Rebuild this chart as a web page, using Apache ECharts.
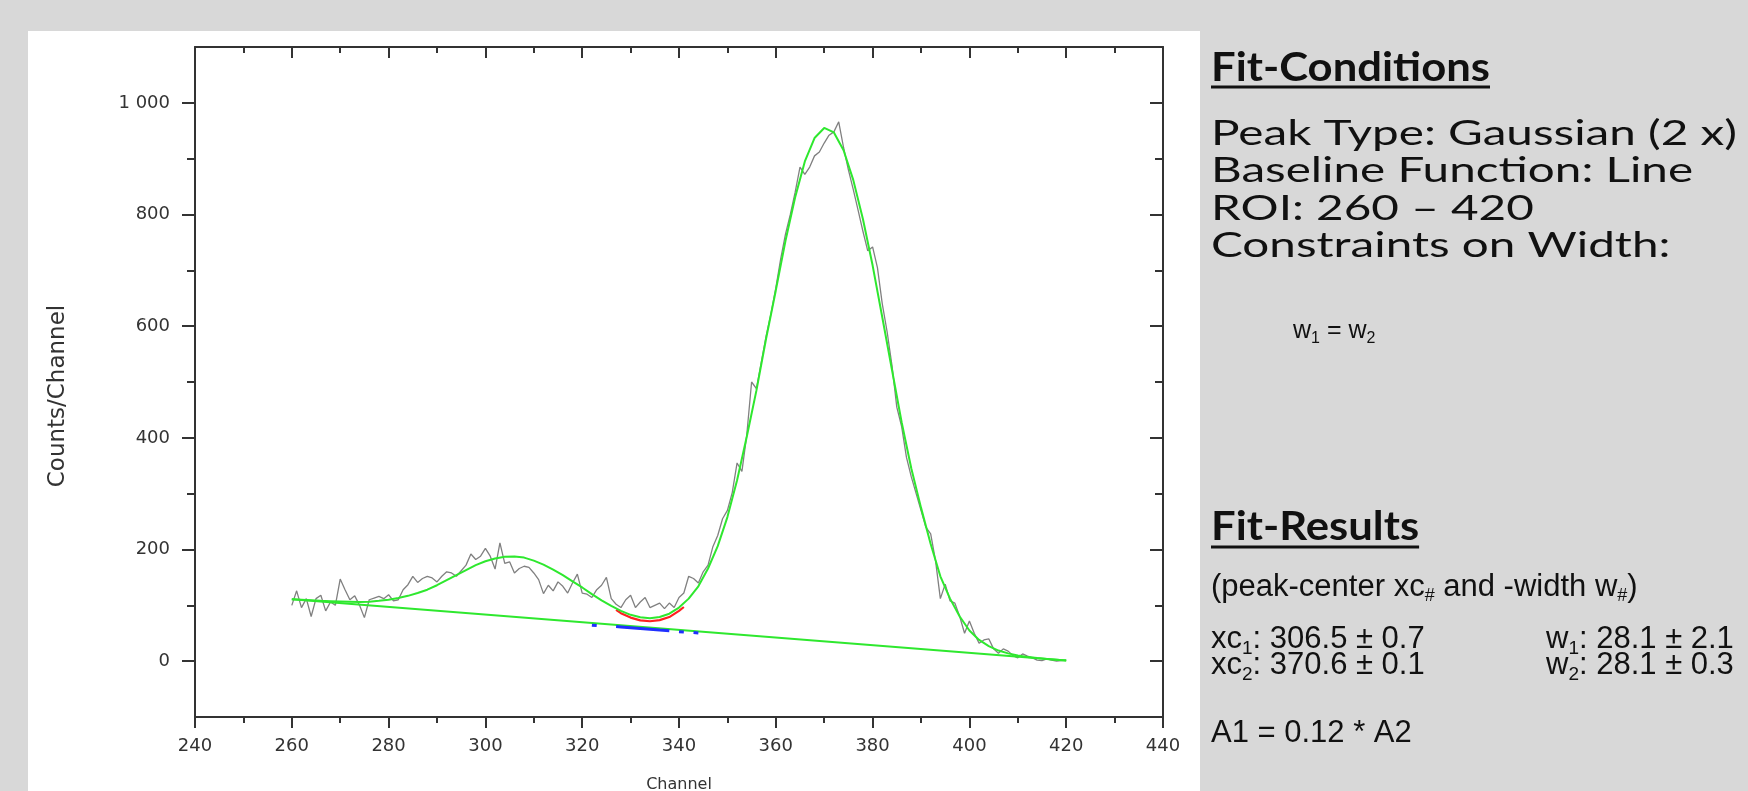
<!DOCTYPE html>
<html>
<head>
<meta charset="utf-8">
<script src="https://cdn.jsdelivr.net/npm/echarts@6/dist/echarts.min.js"></script>
<style>
html,body{margin:0;padding:0;background:#d8d8d8;}
#chart{width:1748px;height:791px;}
</style>
</head>
<body>
<div id="chart"></div>
<script>
// ---------------- data ----------------
const firstChannel = 260;
// measured counts, one per channel 260..420
const counts = [
100,126,96,112,80,112,118,90,106,100,
147,128,110,117,100,78,110,113,116,112,
119,108,110,128,137,152,141,148,152,149,
142,152,160,158,152,162,172,192,182,188,
202,188,165,212,175,178,158,166,170,168,
158,146,121,136,126,142,134,122,140,156,
122,120,114,128,136,150,112,102,96,110,
118,96,106,114,96,100,104,94,104,96,
114,122,152,148,140,160,172,205,225,255,
270,302,355,340,405,500,488,535,582,622,
668,720,765,800,840,885,872,885,905,912,
928,942,948,966,920,880,845,808,770,735,
742,705,640,590,530,455,420,365,330,300,
270,240,228,180,112,138,108,104,80,50,
72,50,32,38,40,22,14,22,18,10,
6,13,9,6,2,1,4,2,0,1,
2
];
// cumulative fit curve (channel, value)
const fitChannels = [260,262,264,266,268,270,272,274,276,278,280,282,284,286,288,290,292,294,296,298,300,302,304,306,308,310,312,314,316,318,320,322,324,326,328,330,332,334,336,338,340,342,344,346,348,350,352,354,356,358,360,362,364,366,368,370,372,374,376,378,380,382,384,386,388,390,392,394,396,398,400,402,404,406,408,410,412,414,416,418,420];
const fitValues = [111,110,109,108,107.5,107,106.5,106,106.5,108,110,113,117,122,128,136,145,154,163,172,179,184,187,187.5,185.5,180,173,164,154,143,132,120,109,99,90,83,78.5,77,79,85,96,112,134,166,206,258,324,402,485,578,664,753,831,895,937,955,947,915,862,792,709,616,522,428,345,275,210,152,112,80,55,38,27,19,14,10,7.5,5.5,4,2.5,1];
// linear baseline end points
const baselineChannels = [260, 420];
const baselineValues = [111, 1];
// red arc in the valley
const redChannels = [327,328,330,332,334,336,338,340,341];
const redValues = [92,86,78,73,71.5,73.5,79,90,97];
// blue pieces along baseline (null = gap)
const blueChannels = [322,323,324,327,328,330,332,334,336,338,339,340,341,342,343,344,346,347];
const blueValues = [64.5,63.8,null,62,61.3,59.9,58.5,57.1,55.7,54.4,null,52.8,52.1,null,51.2,50.5,null,48.6];

// axes
const xMin = 240, xMax = 440, xStep = 20;
const yMin = -100, yMax = 1100;
const yLabelValues = [0,200,400,600,800,1000];
const yMinorValues = [100,300,500,700,900];

// side panel text
const headingConditions = 'Fit-Conditions';
const conditionLines = ['Peak Type: Gaussian (2 x)','Baseline Function: Line','ROI: 260 \u2013 420','Constraints on Width:'];
const headingResults = 'Fit-Results';

// ---------------- build ----------------
const countsData = counts.map((v,i)=>[firstChannel+i, v]);
const fitData = fitChannels.map((c,i)=>[c, fitValues[i]]);
const baseData = baselineChannels.map((c,i)=>[c, baselineValues[i]]);
const redData = redChannels.map((c,i)=>[c, redValues[i]]);
const blueData = blueChannels.map((c,i)=> blueValues[i]===null ? [c,'-'] : [c, blueValues[i]]);

const axisColor = '#333';
const axFont = 'DejaVu Sans, Verdana, sans-serif';
const labelFont = {color:'#333', fontFamily:axFont, fontSize:18};
const chart = echarts.init(document.getElementById('chart'), null, {renderer:'canvas'});

const ctx = document.createElement('canvas').getContext('2d');
const headFont = 'bold 41px Lato';
ctx.font = headFont;
const wCondRaw = ctx.measureText(headingConditions).width;
const headScale = 279 / wCondRaw;
const wCond = wCondRaw * headScale;
const wRes = ctx.measureText(headingResults).width * headScale;
const bodyFontStr = '34px Lato';
ctx.font = bodyFontStr;
const bodyScale = 526 / ctx.measureText(conditionLines[0]).width;

const txtX = 1211;
const arial = 'Liberation Sans, Arial, sans-serif';
const subRich = (main, sub, pad) => ({
  n:{fontFamily:arial, fontSize:main, fill:'#111'},
  s:{fontFamily:arial, fontSize:sub, fill:'#111', padding:[pad,0,0,0]}
});

const graphics = [
  {type:'rect', z:-100, silent:true, shape:{x:28,y:31,width:1172,height:760}, style:{fill:'#ffffff'}},
  {type:'text', x:txtX, y:68, scaleX:headScale, style:{text:headingConditions, font:headFont, fill:'#111', verticalAlign:'middle'}},
  {type:'line', shape:{x1:txtX,y1:87,x2:txtX+wCond,y2:87}, style:{stroke:'#111', lineWidth:3}},
  {type:'text', x:txtX, y:527, scaleX:headScale, style:{text:headingResults, font:headFont, fill:'#111', verticalAlign:'middle'}},
  {type:'line', shape:{x1:txtX,y1:547,x2:txtX+wRes,y2:547}, style:{stroke:'#111', lineWidth:3}},
  {type:'text', x:1293, y:331, style:{text:'{n|w}{s|1}{n| = w}{s|2}', rich:subRich(25,16,16), verticalAlign:'middle'}},
  {type:'text', x:txtX, y:587, style:{text:'{n|(peak-center xc}{s|#}{n| and -width w}{s|#}{n|)}', rich:subRich(31,18,18), verticalAlign:'middle'}},
  {type:'text', x:txtX, y:639, style:{text:'{n|xc}{s|1}{n|: 306.5 \u00b1 0.7}', rich:subRich(31,19,19), verticalAlign:'middle'}},
  {type:'text', x:txtX, y:665, style:{text:'{n|xc}{s|2}{n|: 370.6 \u00b1 0.1}', rich:subRich(31,19,19), verticalAlign:'middle'}},
  {type:'text', x:1546, y:639, style:{text:'{n|w}{s|1}{n|: 28.1 \u00b1 2.1}', rich:subRich(31,19,19), verticalAlign:'middle'}},
  {type:'text', x:1546, y:665, style:{text:'{n|w}{s|2}{n|: 28.1 \u00b1 0.3}', rich:subRich(31,19,19), verticalAlign:'middle'}},
  {type:'text', x:txtX, y:733, style:{text:'A1 = 0.12 * A2', fontFamily:arial, fontSize:31, fill:'#111', verticalAlign:'middle'}}
];
conditionLines.forEach((t,i)=>{
  graphics.push({type:'text', x:txtX, y:134+i*37.5, scaleX:bodyScale,
    style:{text:t, font:bodyFontStr, fill:'#111', verticalAlign:'middle'}});
});

function xAx(pos, labels){
  return {
    type:'value', position:pos, min:xMin, max:xMax, interval:xStep,
    axisLine:{show:true,onZero:false,lineStyle:{color:axisColor,width:2}},
    axisTick:{show:true,inside:pos==='top',length:11,lineStyle:{color:axisColor,width:2}},
    minorTick:{show:true,splitNumber:2,length:6,lineStyle:{color:axisColor,width:2}},
    splitLine:{show:false}, minorSplitLine:{show:false},
    axisLabel:Object.assign({show:labels, margin:20}, labelFont),
    name: labels ? 'Channel' : '', nameLocation:'middle', nameGap:60,
    nameTextStyle:{color:'#333', fontFamily:axFont, fontSize:16}
  };
}
function yAx(pos, values, len, labels, lineShow){
  return {
    type:'value', position:pos, min:yMin, max:yMax, interval:100,
    axisLine:{show:lineShow,onZero:false,lineStyle:{color:axisColor,width:2}},
    axisTick:{show:true,inside:pos==='right',length:len,customValues:values,lineStyle:{color:axisColor,width:2}},
    splitLine:{show:false},
    axisLabel:Object.assign({show:labels, margin:25, customValues:values,
      formatter:(v)=> v===1000 ? '1 000' : String(v)}, labelFont),
    name: labels ? 'Counts/Channel' : '', nameLocation:'middle', nameGap:125,
    nameTextStyle:{color:'#333', fontFamily:axFont, fontSize:23, padding:[0,28,0,0]}
  };
}

const option = {
  backgroundColor:'#d8d8d8',
  animation:false,
  grid:{left:195,right:585,top:47,bottom:74,containLabel:false,outerBoundsMode:'none'},
  xAxis:[xAx('bottom',true), xAx('top',false)],
  yAxis:[
    yAx('left', yLabelValues, 13, true, true),
    yAx('left', yMinorValues, 8, false, false),
    yAx('right', yLabelValues, 13, false, true),
    yAx('right', yMinorValues, 8, false, false)
  ],
  series:[
    {type:'line', name:'Counts', data:countsData, showSymbol:false, symbol:'none', lineStyle:{color:'#808080',width:1.3}, z:2},
    {type:'line', name:'Peak valley', data:redData, showSymbol:false, symbol:'none', lineStyle:{color:'#ff2020',width:2.2}, z:3},
    {type:'line', name:'Baseline', data:baseData, showSymbol:false, symbol:'none', lineStyle:{color:'#2ee82e',width:2}, z:4},
    {type:'line', name:'Baseline segments', data:blueData, showSymbol:false, symbol:'none', connectNulls:false, lineStyle:{color:'#2030ff',width:3}, z:5},
    {type:'line', name:'Fit', data:fitData, showSymbol:false, symbol:'none', lineStyle:{color:'#2ee82e',width:2}, z:4}
  ],
  graphic:graphics
};
chart.setOption(option);
</script>
</body>
</html>
